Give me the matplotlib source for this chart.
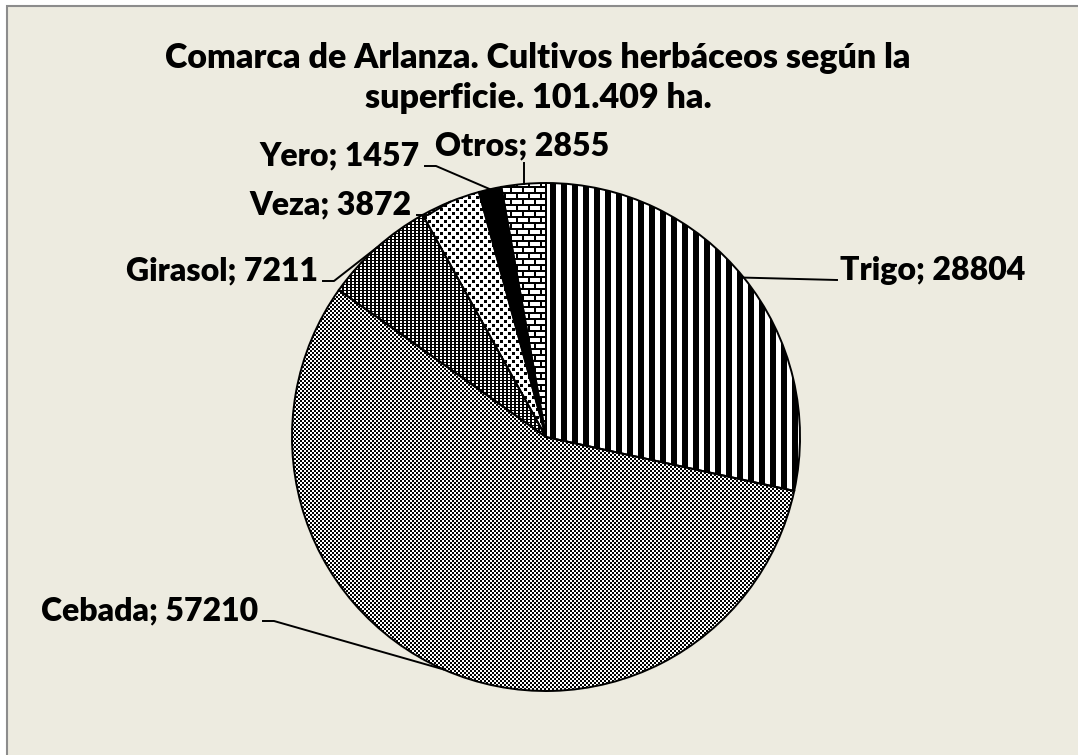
import numpy as np
import matplotlib.pyplot as plt
from matplotlib.patches import Rectangle

W, H = 1078, 755

cultivos = ["Trigo", "Cebada", "Girasol", "Veza", "Yero", "Otros"]
hectareas = [28804, 57210, 7211, 3872, 1457, 2855]
titulo = ["Comarca de Arlanza. Cultivos herbáceos según la",
          "superficie. 101.409 ha."]

# label placement in picture pixels (x, baseline y from top, alignment)
label_x = [840, 258, 318, 412, 420, 522]
label_y = [280, 620, 280, 214, 165, 155]
label_ha = ["left", "right", "right", "right", "right", "center"]

plt.rcParams['font.family'] = ['Lato', 'DejaVu Sans']

fig = plt.figure(figsize=(W / 100, H / 100), dpi=100)
fig.patch.set_facecolor('white')
ax = fig.add_axes([0, 0, 1, 1])

cx, cy, r = 546, 437, 254

wedges, _ = ax.pie(hectareas, startangle=90, counterclock=False,
                   center=(cx, H - cy), radius=r,
                   wedgeprops=dict(facecolor='none', edgecolor='black',
                                   linewidth=1.4, zorder=3))
ax.set_aspect('auto')
ax.axis('off')

ax.add_patch(Rectangle((6.5, -20), W + 20, H - 5.5 + 20, facecolor='#EDEBE0',
                       edgecolor='#8C8C8C', linewidth=1.5, zorder=0))

# fill patterns, one pixel per cell
yy, xx = np.mgrid[0:H, 0:W]
row = yy // 6
patterns = [
    (xx % 11) < 6,                                              # rayas
    ((xx // 2 + yy // 2) % 2) == 0,                             # damero fino
    ~((xx % 4 < 2) & (yy % 3 < 2)),                             # damero denso
    ((xx % 8 < 3) & (yy % 8 < 3)) | (((xx + 4) % 8 < 3) & ((yy + 4) % 8 < 3)),
    np.ones((H, W), dtype=bool),                                # negro
    (yy % 6 < 2) | (((xx + (row % 2) * 6) % 12) < 2),           # ladrillo
]

for w, pat in zip(wedges, patterns):
    rgba = np.ones((H, W, 4))
    rgba[pat, :3] = 0
    im = ax.imshow(rgba, extent=(0, W, 0, H), origin='upper', aspect='auto',
                   interpolation='nearest', zorder=2)
    im.set_clip_path(w)
ax.set_xlim(0, W)
ax.set_ylim(0, H)

# labels with leader lines
for w, name, val, lx, ly, ha in zip(wedges, cultivos, hectareas,
                                    label_x, label_y, label_ha):
    mid = np.deg2rad((w.theta1 + w.theta2) / 2)
    axx = cx + r * np.cos(mid)
    ayy = (H - cy) + r * np.sin(mid)
    ax.text(lx, H - ly, f"{name}; {val}", ha=ha, va='baseline',
            fontsize=23, fontweight='heavy', color='black', zorder=5)
    if ha == "left":
        xs, ys = [lx - 3, axx], [H - ly, ayy]
    elif ha == "right":
        xs, ys = [lx + 5, lx + 16, axx], [H - ly - 1, H - ly - 1, ayy]
    else:
        xs, ys = [axx, axx], [H - ly - 8, ayy]
    ax.plot(xs, ys, color='black', linewidth=1.4, zorder=4)

ax.text(538, H - 68, titulo[0], ha='center', va='baseline',
        fontsize=24.5, fontweight='heavy')
ax.text(538, H - 108, titulo[1], ha='center', va='baseline',
        fontsize=24.5, fontweight='heavy')

fig.savefig('out.png', dpi=100, facecolor=fig.get_facecolor())
